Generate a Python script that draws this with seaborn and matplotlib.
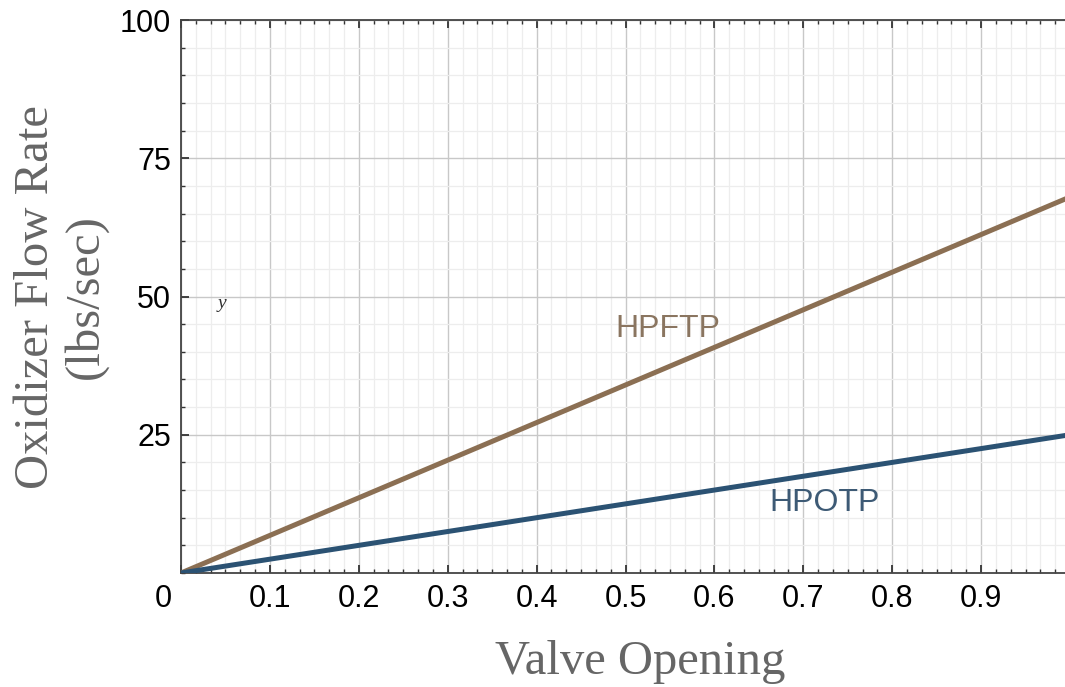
import numpy as np
import pandas as pd
import seaborn as sns
import matplotlib
matplotlib.use("Agg")
import matplotlib.pyplot as plt
from matplotlib.ticker import MultipleLocator, FixedLocator
from matplotlib.transforms import ScaledTranslation

# ---- data ----
valve_opening = [0.0, 1.0]
hpftp_flow = [0.0, 68.0]
hpotp_flow = [0.0, 25.0]
x_ticks = [0, 0.1, 0.2, 0.3, 0.4, 0.5, 0.6, 0.7, 0.8, 0.9]
x_tick_labels = ["0", "0.1", "0.2", "0.3", "0.4", "0.5", "0.6", "0.7", "0.8", "0.9"]
y_ticks = [25, 50, 75, 100]
y_tick_labels = ["25", "50", "75", "100"]

df = pd.DataFrame({
    "Valve Opening": valve_opening * 2,
    "Flow": hpftp_flow + hpotp_flow,
    "Pump": ["HPFTP"] * 2 + ["HPOTP"] * 2,
})

sns.set_theme(style="white")
plt.rcParams['font.family'] = ['Liberation Sans', 'DejaVu Sans']

brown = "#8B6F53"
blue = "#2B5273"

fig = plt.figure(figsize=(10.65, 6.87), dpi=100)
ax = fig.add_axes([181 / 1065, 1 - 573 / 687, (1070 - 181) / 1065, (573 - 20) / 687])

sns.lineplot(data=df, x="Valve Opening", y="Flow", hue="Pump",
             palette={"HPFTP": brown, "HPOTP": blue}, linewidth=3.6,
             legend=False, ax=ax, zorder=3)

ax.set_xlim(0, 1.0)
ax.set_ylim(0, 100)

ax.xaxis.set_major_locator(FixedLocator(x_ticks))
ax.set_xticklabels(x_tick_labels)
ax.yaxis.set_major_locator(FixedLocator(y_ticks))
ax.set_yticklabels(y_tick_labels)
ax.xaxis.set_minor_locator(MultipleLocator(1 / 60))
ax.yaxis.set_minor_locator(MultipleLocator(5))

ax.grid(which="major", color="#c8c8c8", linewidth=1.0, zorder=0)
ax.grid(which="minor", color="#ededed", linewidth=0.9, zorder=0)
ax.set_axisbelow(True)

for side in ["left", "bottom", "top"]:
    ax.spines[side].set_visible(True)
    ax.spines[side].set_color("#444444")
    ax.spines[side].set_linewidth(1.3)
ax.spines["right"].set_visible(False)

ax.tick_params(which="major", direction="in", length=6, width=1.3, color="#333333",
               top=True, bottom=True, left=True, right=False,
               labelsize=22, labelcolor="black")
ax.tick_params(which="minor", direction="in", length=3, width=1.0, color="#333333",
               top=True, bottom=True, left=True, right=False)
ax.tick_params(axis="x", which="major", pad=8)
ax.tick_params(axis="y", which="major", pad=7)

# shift the "0" label left of the origin as in the reference
zero_label = ax.get_xticklabels()[0]
zero_label.set_transform(zero_label.get_transform() +
                         ScaledTranslation(-0.18, 0, fig.dpi_scale_trans))

ax.set_xlabel("Valve Opening", family=["Liberation Serif", "DejaVu Serif"],
              fontsize=35, color="#666666")
ax.xaxis.set_label_coords((640 - 181) / (1070 - 181), -(640 - 573) / 553)
ax.set_ylabel("Oxidizer Flow Rate\n(lbs/sec)", family=["Liberation Serif", "DejaVu Serif"],
              fontsize=35, color="#666666", linespacing=1.15)
ax.yaxis.set_label_coords((108 - 181) / (1070 - 181), (573 - 297) / 553)

ax.text(0.548, 44.1, "HPFTP", color="#8a7560", fontsize=23, ha="center", va="center")
ax.text(0.724, 12.7, "HPOTP", color="#3d5a75", fontsize=23, ha="center", va="center")
ax.text(0.046, 48.8, "y", family=["Liberation Serif", "DejaVu Serif"], style="italic",
        fontsize=14, color="#333333", ha="center", va="center")

fig.savefig("out.png", dpi=100)
